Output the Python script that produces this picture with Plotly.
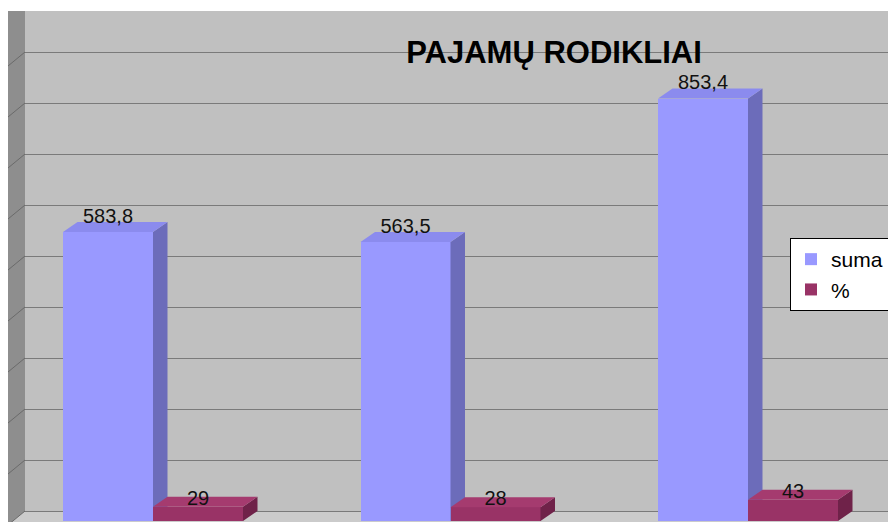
import plotly.graph_objects as go

# ---- data ----
categories = [0, 1, 2]
suma = [583.8, 563.5, 853.4]
procentai = [29, 28, 43]
series_names = ["suma", "%"]
title_text = "PAJAMŲ RODIKLIAI"

# ---- geometry (page pixels; the page body adds an 8px offset) ----
OFF = 8
PAGE_W, PAGE_H = 896, 522
W, H = PAGE_W - OFF, PAGE_H - OFF          # figure size
TOP_PAGE = 11                               # plot area top (page px)
LEFT_PAGE = OFF                             # plot area left (page px)
PW, PH = PAGE_W - LEFT_PAGE, PAGE_H - TOP_PAGE

CX0, CSTEP = 153.0, 297.5                   # page px of category 0, px per category
X_RANGE = [(LEFT_PAGE - CX0) / CSTEP, (PAGE_W - CX0) / CSTEP]

Y0PX, YSCALE = 521.0, 0.495                 # data axis: py = Y0PX - YSCALE*v
Y_DATA = [(Y0PX - PAGE_H) / YSCALE, (Y0PX - TOP_PAGE) / YSCALE]

G0PX, GSCALE = 511.0, 0.51                  # back-wall grid axis
Y_GRID = [(G0PX - PAGE_H) / GSCALE, (G0PX - TOP_PAGE) / GSCALE]

BW = 90 / CSTEP                             # bar width in x units
DX = 14.5 / CSTEP                           # depth offset (x units)
DY = 10 / YSCALE                            # depth offset (data units)
WALL_R = 25                                 # page px of wall's right edge


def faces(vals, off):
    sx, sy, tx, ty = [], [], [], []
    for c, v in zip(categories, vals):
        xl = c + off
        xr = xl + BW
        sx += [xr, xr, xr + DX, xr + DX, xr, None]
        sy += [0, v, v + DY, DY, 0, None]
        tx += [xl, xr, xr + DX, xl + DX, xl, None]
        ty += [v, v, v + DY, v + DY, v, None]
    return sx, sy, tx, ty


def fmt(v, dec):
    return (f"{v:.{dec}f}").replace(".", ",")


def xp(px):
    return (px - LEFT_PAGE) / PW


def yp(py):
    return (PAGE_H - py) / PH


FONT = "Liberation Sans, Arial, sans-serif"

SUMA_FRONT, SUMA_SIDE, SUMA_TOP = "#9999ff", "#6c6cba", "#8b8bee"
PR_FRONT, PR_SIDE, PR_TOP = "#993366", "#6f2249", "#a53b6f"

fig = go.Figure()

# base subplot (grid only)
fig.add_trace(go.Scatter(x=[0], y=[0], mode="markers", marker=dict(opacity=0),
                         showlegend=False, hoverinfo="skip", xaxis="x", yaxis="y"))

# suma series
sx, sy, tx, ty = faces(suma, -BW)
fig.add_trace(go.Bar(x=categories, y=suma, offset=-BW, width=BW, name=series_names[0],
                     marker=dict(color=SUMA_FRONT, line=dict(width=0)),
                     xaxis="x", yaxis="y2"))
fig.add_trace(go.Scatter(x=sx, y=sy, fill="toself", fillcolor=SUMA_SIDE, mode="lines",
                         line=dict(width=0, color=SUMA_SIDE), showlegend=False,
                         hoverinfo="skip", xaxis="x", yaxis="y2"))
fig.add_trace(go.Scatter(x=tx, y=ty, fill="toself", fillcolor=SUMA_TOP, mode="lines",
                         line=dict(width=0, color=SUMA_TOP), showlegend=False,
                         hoverinfo="skip", xaxis="x", yaxis="y2"))
fig.add_trace(go.Scatter(x=[c - BW / 2 for c in categories], y=[v + 9 for v in suma],
                         mode="text", text=[fmt(v, 1) for v in suma],
                         textposition="top center",
                         textfont=dict(family=FONT, size=20, color="#111111"),
                         showlegend=False, hoverinfo="skip", xaxis="x", yaxis="y2"))

# % series
px_, py_, qx, qy = faces(procentai, 0)
fig.add_trace(go.Bar(x=categories, y=procentai, offset=0, width=BW, name=series_names[1],
                     marker=dict(color=PR_FRONT, line=dict(width=0)),
                     xaxis="x", yaxis="y3"))
fig.add_trace(go.Scatter(x=px_, y=py_, fill="toself", fillcolor=PR_SIDE, mode="lines",
                         line=dict(width=0, color=PR_SIDE), showlegend=False,
                         hoverinfo="skip", xaxis="x", yaxis="y3"))
fig.add_trace(go.Scatter(x=qx, y=qy, fill="toself", fillcolor=PR_TOP, mode="lines",
                         line=dict(width=0, color=PR_TOP), showlegend=False,
                         hoverinfo="skip", xaxis="x", yaxis="y3"))
fig.add_trace(go.Scatter(x=[c + BW / 2 for c in categories], y=[v - 6 for v in procentai],
                         mode="text", text=[fmt(v, 0) for v in procentai],
                         textposition="top center",
                         textfont=dict(family=FONT, size=20, color="#111111"),
                         showlegend=False, hoverinfo="skip", xaxis="x", yaxis="y3"))

# ---- decorations: left wall, floor ----
shapes = []
shapes.append(dict(type="path", xref="paper", yref="paper", layer="below",
                   path=f"M{xp(WALL_R)},{yp(G0PX)} L1,{yp(G0PX)} L1,0 L0,0 Z",
                   fillcolor="#cbcbcb", line=dict(width=0)))
shapes.append(dict(type="path", xref="paper", yref="paper", layer="above",
                   path=f"M0,1 L{xp(WALL_R)},1 L{xp(WALL_R)},{yp(G0PX)} L0,{yp(G0PX + 14)} Z",
                   fillcolor="#8e8e8e", line=dict(width=0)))
g = 0
while G0PX - GSCALE * g > TOP_PAGE:
    gy = G0PX - GSCALE * g
    shapes.append(dict(type="line", xref="paper", yref="paper", layer="above",
                       x0=xp(WALL_R), y0=yp(gy), x1=0, y1=yp(gy + 14),
                       line=dict(color="#6a6a6a", width=1)))
    g += 100

fig.update_layout(
    width=W, height=H,
    margin=dict(l=LEFT_PAGE - OFF, r=0, t=TOP_PAGE - OFF, b=0, pad=0),
    paper_bgcolor="white",
    plot_bgcolor="#c0c0c0",
    showlegend=True,
    title=dict(text=title_text, x=xp(554), xref="paper", xanchor="center",
               y=1 - (52 - OFF) / H, yref="container", yanchor="middle",
               font=dict(family=FONT, size=31, color="black", weight="bold")),
    legend=dict(x=xp(790), y=yp(238), xanchor="left", yanchor="top",
                bgcolor="white", bordercolor="black", borderwidth=1,
                font=dict(family=FONT, size=21, color="black"),
                itemwidth=30, traceorder="normal"),
    xaxis=dict(range=X_RANGE, showgrid=False, zeroline=False, showticklabels=False,
               showline=False, ticks=""),
    yaxis=dict(range=Y_GRID, showgrid=True, gridcolor="#7a7a7a", gridwidth=1,
               tick0=0, dtick=100, zeroline=False, showticklabels=False,
               showline=False, ticks=""),
    yaxis2=dict(range=Y_DATA, overlaying="y", showgrid=False, zeroline=False,
                showticklabels=False, showline=False, ticks=""),
    yaxis3=dict(range=Y_DATA, overlaying="y", showgrid=False, zeroline=False,
                showticklabels=False, showline=False, ticks=""),
    shapes=shapes,
    bargap=0,
)

fig.write_html("out.html")
